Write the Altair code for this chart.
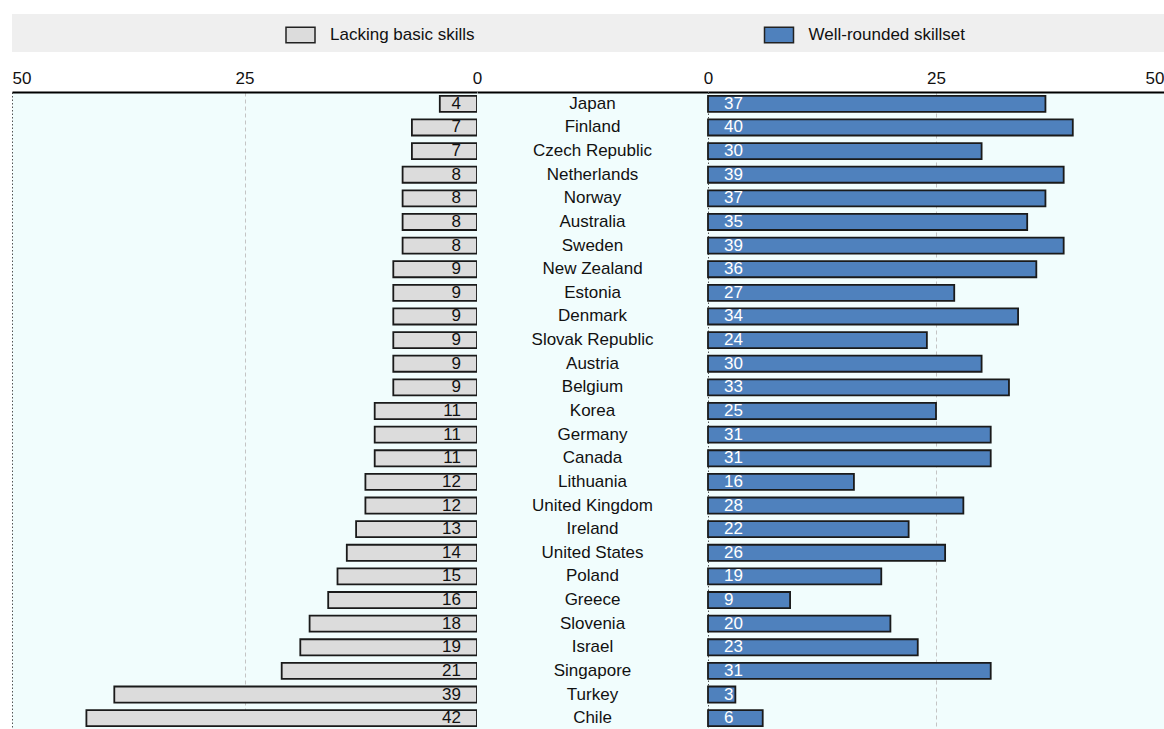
import altair as alt
import pandas as pd

# Share of students by skill profile, per country (%)
countries = [
    "Japan", "Finland", "Czech Republic", "Netherlands", "Norway", "Australia",
    "Sweden", "New Zealand", "Estonia", "Denmark", "Slovak Republic", "Austria",
    "Belgium", "Korea", "Germany", "Canada", "Lithuania", "United Kingdom",
    "Ireland", "United States", "Poland", "Greece", "Slovenia", "Israel",
    "Singapore", "Turkey", "Chile",
]
lacking_basic = [4, 7, 7, 8, 8, 8, 8, 9, 9, 9, 9, 9, 9, 11, 11, 11, 12, 12,
                 13, 14, 15, 16, 18, 19, 21, 39, 42]
well_rounded = [37, 40, 30, 39, 37, 35, 39, 36, 27, 34, 24, 30, 33, 25, 31, 31,
                16, 28, 22, 26, 19, 9, 20, 23, 31, 3, 6]

series_names = ["Lacking basic skills", "Well-rounded skillset"]
series_colors = ["#dcdcdc", "#4f81bd"]
axis_ticks = [0, 25, 50]

FONT = "Liberation Sans, Arial, sans-serif"
FS = 17
INK = "#111111"
PLOT_BG = "#f1fdfd"
BAND_BG = "#efefef"
PANEL_H = 638

df = pd.DataFrame({"country": countries, "lacking": lacking_basic, "well": well_rounded})
legend_df = pd.DataFrame({"series": series_names})

y_enc = alt.Y(
    "country:N", sort=countries, axis=None,
    scale=alt.Scale(paddingInner=0.32, paddingOuter=0.16),
)


def value_axis(edge_align, edge_value, show_edge_grid):
    edge_color = "#555555" if show_edge_grid else "transparent"
    return alt.Axis(
        orient="top", values=axis_ticks, title=None, ticks=False, format="d",
        labelFont=FONT, labelFontSize=FS, labelColor=INK, labelPadding=5,
        labelAlign={"condition": {"test": f"datum.value == {edge_value}", "value": edge_align},
                    "value": "center"},
        domainColor="#000000", domainWidth=2,
        grid=True, gridWidth=1,
        gridColor={"condition": [{"test": "datum.value == 25", "value": "#c4c4c4"},
                                 {"test": "datum.value == 0", "value": "#555555"}],
                   "value": edge_color},
        gridDash={"condition": {"test": "datum.value == 25", "value": [4, 3]},
                  "value": [1.5, 2]},
    )


bar_style = dict(stroke="#1a1a1a", strokeWidth=1.8)
num_style = dict(font=FONT, fontSize=FS, baseline="middle")

# Left panel: bars grow leftwards from zero
left_x = alt.X("lacking:Q", scale=alt.Scale(domain=[0, 50], reverse=True, nice=False),
               axis=value_axis("left", 50, True))
left_bars = alt.Chart(df).mark_bar(fill=series_colors[0], **bar_style).encode(
    x=left_x, x2=alt.datum(0), y=y_enc)
left_nums = alt.Chart(df).mark_text(align="right", dx=-16, color=INK, **num_style).encode(
    x=alt.datum(0), y=y_enc, text="lacking:Q")
left = (left_bars + left_nums).properties(
    width=465, height=PANEL_H, view=alt.ViewBackground(fill=PLOT_BG, stroke=None))

# Centre column: country names
mid = alt.Chart(df).mark_text(font=FONT, fontSize=FS, color=INK, baseline="middle").encode(
    x=alt.XDatum(0, scale=alt.Scale(domain=[-1, 1]),
                 axis=alt.Axis(orient="top", labels=False, ticks=False, grid=False, title=None,
                               domainColor="#000000", domainWidth=2)),
    y=y_enc, text="country:N",
).properties(width=231, height=PANEL_H, view=alt.ViewBackground(fill=PLOT_BG, stroke=None))

# Right panel: bars grow rightwards from zero
right_x = alt.X("well:Q", scale=alt.Scale(domain=[0, 50], nice=False),
                axis=value_axis("right", 50, False))
right_bars = alt.Chart(df).mark_bar(fill=series_colors[1], **bar_style).encode(
    x=right_x, x2=alt.datum(0), y=y_enc)
right_nums = alt.Chart(df).mark_text(align="left", dx=16, color="#ffffff", **num_style).encode(
    x=alt.datum(0), y=y_enc, text="well:Q")
right = (right_bars + right_nums).properties(
    width=456, height=PANEL_H, view=alt.ViewBackground(fill=PLOT_BG, stroke=None))

# Legend band across the top
leg_x = alt.X("series:N", sort=series_names, axis=None,
              scale=alt.Scale(type="point", domain=series_names, range=[288.5, 767], padding=0))
swatches = alt.Chart(legend_df).mark_point(
    shape="M-1,-0.54H1V0.54H-1Z", size=841, filled=True, opacity=1,
    stroke="#222222", strokeWidth=1.5, yOffset=2,
).encode(
    x=leg_x,
    fill=alt.Fill("series:N", scale=alt.Scale(domain=series_names, range=series_colors), legend=None),
)
leg_text = alt.Chart(legend_df).mark_text(
    align="left", dx=29.5, dy=2, baseline="middle", font=FONT, fontSize=FS, color=INK,
).encode(x=leg_x, text="series:N")
legend_band = (swatches + leg_text).properties(
    width=1152, height=38, view=alt.ViewBackground(fill=BAND_BG, stroke=None))

panels = alt.hconcat(left, mid, right, spacing=0, bounds="flush")

chart = alt.vconcat(legend_band, panels, spacing=17).properties(
    padding={"left": 12, "top": 14, "right": 0, "bottom": 0},
    background="#ffffff",
).configure_view(stroke=None)

chart.save("out.html", embed_options={"renderer": "svg", "actions": False})
